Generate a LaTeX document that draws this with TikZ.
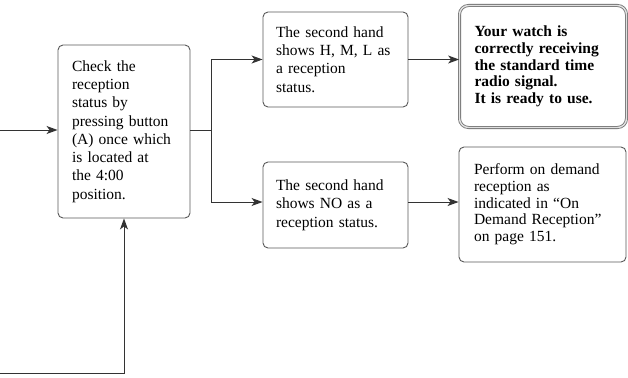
\documentclass[tikz,border=0pt]{standalone}
\usepackage{fontspec}
\setmainfont{Liberation Serif}
\usetikzlibrary{arrows.meta}
\begin{document}
\begin{tikzpicture}[x=1pt,y=-1pt,
  box/.style={draw=black!65, line width=0.9pt, rounded corners=5pt, fill=white,
    align=left, inner sep=0pt, anchor=center},
  normaltext/.style={font=\fontsize{15.5}{18.3}\selectfont},
  boldtext/.style={font=\fontsize{15.5}{16.7}\selectfont\bfseries},
  conn/.style={draw=black!80, line width=1pt},
  arr/.style={conn, -{Stealth[length=11pt,width=8pt,inset=3pt]}}]
\useasboundingbox (0,0) rectangle (628,377);
% boxes
\node[box, normaltext, minimum width=132pt, minimum height=173pt, text width=104pt] (check) at (124,131.5)
  {Check the\\reception\\status by\\pressing button\\(A) once which\\is located at\\the 4:00\\position.};
\node[box, normaltext, minimum width=145pt, minimum height=95pt, text width=119pt] (hml) at (335.5,59.5)
  {The second hand\\shows H, M, L as\\a reception\\status.};
\node[box, normaltext, minimum width=145pt, minimum height=86pt, text width=119pt] (no) at (335.5,205)
  {The second hand\\shows NO as a\\reception status.};
\node[box, boldtext, rounded corners=9pt, draw=black!55, double=black!12, double distance=1.4pt, line width=0.8pt,
  minimum width=167pt, minimum height=122pt, text width=137pt] (ok) at (543,66.5)
  {Your watch is\\correctly receiving\\the standard time\\radio signal.\\It is ready to use.};
\node[box, normaltext, font=\fontsize{15.5}{16.7}\selectfont, minimum width=167pt, minimum height=115pt, text width=137pt] (ondemand) at (542.5,204.5)
  {Perform on demand\\reception as\\indicated in ``On\\Demand Reception''\\on page 151.};
% connectors
\coordinate (in) at (0,130);
\coordinate (fork) at (211,130);
\coordinate (bl) at (0,373);
\coordinate (bc) at (124,373);
\draw[arr] (in) -- (in -| check.west);
\draw[conn] (check.east |- fork) -- (fork);
\draw[conn] (fork |- hml) -- (fork |- 0,202);
\draw[arr] (fork |- hml) -- (hml.west);
\draw[arr] (fork |- 0,202) -- (no.west |- 0,202);
\draw[arr] (hml.east) -- (ok.west |- hml);
\draw[arr] (no.east |- 0,202) -- (ondemand.west |- 0,202);
\draw[arr] (bl) -- (bc) -- (check.south);
\end{tikzpicture}
\end{document}
